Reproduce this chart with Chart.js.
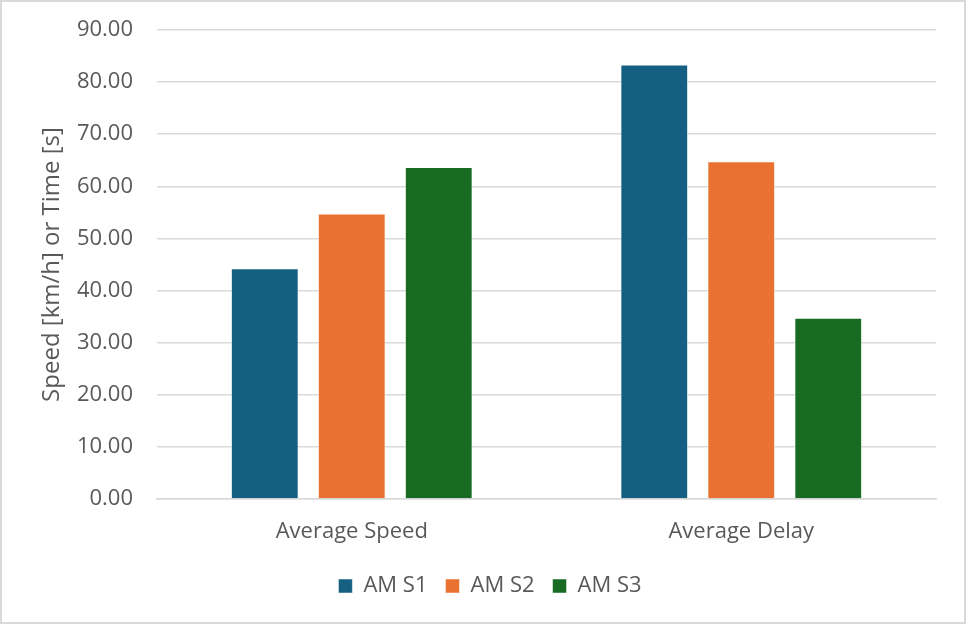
<!DOCTYPE html>
<html>
<head>
<meta charset="utf-8">
<script src="https://cdn.jsdelivr.net/npm/chart.js@4/dist/chart.umd.min.js"></script>
<style>
  body { margin: 0; background: #fff; }
  #wrap { width: 966px; height: 624px; border: 2px solid #d9d9d9; box-sizing: border-box; position: relative; }
</style>
</head>
<body>
<div id="wrap"><canvas id="chart" width="962" height="620"></canvas></div>
<script>
// data
var categories = ["Average Speed", "Average Delay"]
var seriesNames = ["AM S1", "AM S2", "AM S3"]
var s1 = [44.3, 83.4]
var s2 = [54.8, 64.8]
var s3 = [63.7, 34.8]
var colors = ["#156082", "#E97132", "#196B24"]

var ctx = document.getElementById("chart").getContext('2d')
Chart.defaults.font.family = "'Open Sans', sans-serif"
Chart.defaults.color = "#595959"

var values = [s1, s2, s3]
var datasets = seriesNames.map(function(name, i){
  return {
    label: name,
    data: values[i],
    backgroundColor: colors[i],
    borderColor: "rgba(255,255,255,0.5)",
    borderWidth: 1,
    barPercentage: 0.78,
    categoryPercentage: 0.67
  }
})

// fixed legend height so the plot bottom lands where it should,
// and nudge the legend a bit to the right like the original
var legendFix = {
  id: "legendFix",
  beforeInit: function(chart){
    var fit = chart.legend.fit
    chart.legend.fit = function(){
      fit.bind(chart.legend)()
      this.height = 41
    }
  },
  afterLayout: function(chart){
    chart.legend.left += 16
    chart.legend.right += 16
  }
}

var chart = new Chart(ctx, {
  type: "bar",
  data: { labels: categories, datasets: datasets },
  plugins: [legendFix],
  options: {
    responsive: false,
    animation: false,
    layout: { padding: { left: 10, right: 28, top: 28, bottom: 24 } },
    plugins: {
      tooltip: { enabled: false },
      legend: {
        position: "bottom",
        labels: {
          font: { size: 22 },
          boxWidth: 14,
          boxHeight: 14,
          padding: 18
        }
      }
    },
    scales: {
      y: {
        min: 0,
        max: 90,
        afterFit: function(scale){
          scale.width = 145   // plot starts at x=155 in the canvas
          scale.paddingTop = 0
          scale.paddingBottom = 0
        },
        ticks: {
          stepSize: 10,
          font: { size: 22 },
          padding: 24,
          callback: function(value){ return value.toFixed(2) }
        },
        grid: { color: "#d9d9d9", lineWidth: 1.5, drawTicks: false },
        border: { display: false },
        title: {
          display: true,
          text: "Speed [km/h] or Time [s]",
          font: { size: 24 },
          padding: { top: 26, bottom: 0 }
        }
      },
      x: {
        afterFit: function(scale){ scale.height = 58 },
        ticks: { font: { size: 22 }, padding: 20 },
        grid: { display: false, drawTicks: false },
        border: { color: "#d9d9d9", width: 1.5 }
      }
    }
  }
})
</script>
</body>
</html>
